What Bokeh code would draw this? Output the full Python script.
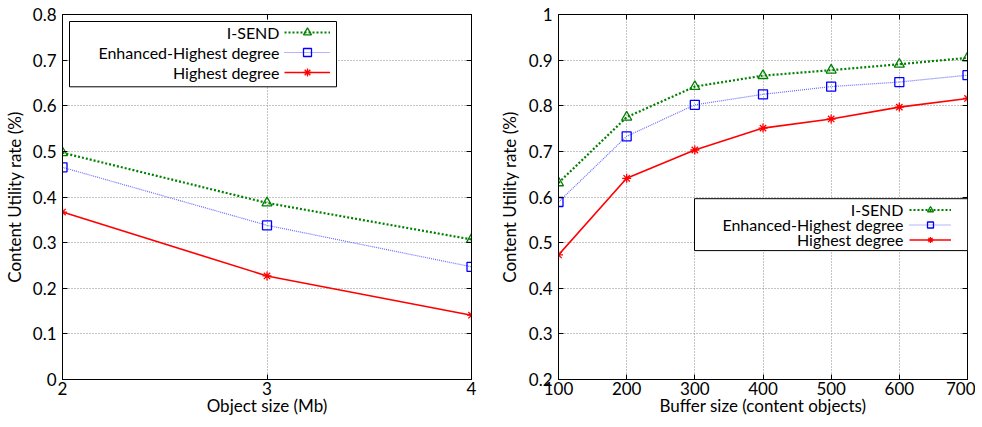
from bokeh.plotting import figure
from bokeh.layouts import row
from bokeh.models import (Range1d, FixedTicker, LinearAxis, Legend, LegendItem,
                          Label, BoxAnnotation)
from bokeh.embed import file_html
from bokeh.resources import INLINE

# ---------------- data ----------------
series_names = ["I-SEND", "Enhanced-Highest degree", "Highest degree"]

object_size = [2, 3, 4]
left_isend = [0.497, 0.387, 0.307]
left_enhanced = [0.465, 0.338, 0.247]
left_highest = [0.367, 0.227, 0.141]

buffer_size = [100, 200, 300, 400, 500, 600, 700]
right_isend = [0.631, 0.775, 0.842, 0.866, 0.878, 0.891, 0.905]
right_enhanced = [0.589, 0.733, 0.802, 0.825, 0.842, 0.852, 0.867]
right_highest = [0.473, 0.641, 0.703, 0.751, 0.771, 0.797, 0.816]

left_x_ticks = [2, 3, 4]
left_y_ticks = [0, 0.1, 0.2, 0.3, 0.4, 0.5, 0.6, 0.7, 0.8]
left_y_labels = ["0", "0.1", "0.2", "0.3", "0.4", "0.5", "0.6", "0.7", "0.8"]
right_x_ticks = [100, 200, 300, 400, 500, 600, 700]
right_y_ticks = [0.2, 0.3, 0.4, 0.5, 0.6, 0.7, 0.8, 0.9, 1.0]
right_y_labels = ["0.2", "0.3", "0.4", "0.5", "0.6", "0.7", "0.8", "0.9", "1"]

left_x_label = "Object size (Mb)"
right_x_label = "Buffer size (content objects)"
y_label = "Content Utility rate (%)"

# ---------------- style ----------------
FONT = "Lato"
FS = "17px"
LEG_FS = "16px"
FRAME_W = 409
FRAME_H = 365

GREEN = "#008000"
BLUE = "#0000ff"
BLUE_LINE = "#6b6bff"
RED = "#ff0000"


def make_fig(xr, yr, xticks, yticks, ylabels, xlabel, b_left, b_right, ylab_standoff):
    p = figure(frame_width=FRAME_W, frame_height=FRAME_H,
               min_border_left=b_left, min_border_right=b_right,
               min_border_top=14, min_border_bottom=40,
               x_range=Range1d(*xr), y_range=Range1d(*yr),
               output_backend="svg", toolbar_location=None,
               background_fill_color="white", border_fill_color="white")
    p.outline_line_color = "black"
    p.outline_line_width = 1

    for ax in (p.xaxis[0], p.yaxis[0]):
        ax.axis_line_color = "black"
        ax.major_tick_in = 5
        ax.major_tick_out = 0
        ax.minor_tick_in = 0
        ax.minor_tick_out = 0
        ax.major_label_text_font = FONT
        ax.major_label_text_font_size = FS
        ax.major_label_text_color = "black"
        ax.axis_label_text_font = FONT
        ax.axis_label_text_font_size = FS
        ax.axis_label_text_font_style = "normal"
        ax.axis_label_text_color = "black"

    p.xaxis[0].ticker = FixedTicker(ticks=xticks)
    p.yaxis[0].ticker = FixedTicker(ticks=yticks)
    p.yaxis[0].major_label_overrides = {t: l for t, l in zip(yticks, ylabels)}
    p.xaxis[0].axis_label = xlabel
    p.yaxis[0].axis_label = y_label
    p.xaxis[0].major_label_standoff = 2
    p.xaxis[0].axis_label_standoff = -3
    p.yaxis[0].major_label_standoff = 6
    p.yaxis[0].axis_label_standoff = ylab_standoff

    p.xgrid.ticker = FixedTicker(ticks=xticks)
    p.ygrid.ticker = FixedTicker(ticks=yticks)
    for g in (p.xgrid, p.ygrid):
        g.grid_line_color = "#8a8a8a"
        g.grid_line_dash = "1 2"
        g.grid_line_width = 1

    # mirrored tick marks on top and right (box style), no labels drawn
    for ticks, side in ((xticks, "above"), (yticks, "right")):
        ax = LinearAxis(ticker=FixedTicker(ticks=ticks),
                        major_label_text_font_size="1px", major_label_text_color=None,
                        major_label_standoff=0, major_tick_in=5, major_tick_out=0,
                        minor_tick_in=0, minor_tick_out=0, axis_line_color="black")
        p.add_layout(ax, side)
    return p


def add_series(p, x, ys):
    r_isend = [p.line(x, ys[0], line_color=GREEN, line_width=2.2, line_dash="2 2"),
               p.scatter(x, ys[0], marker="triangle", size=10, fill_alpha=0,
                         line_color=GREEN, line_width=1.3)]
    r_enh = [p.line(x, ys[1], line_color=BLUE_LINE, line_width=1.2, line_dash="1 1"),
             p.scatter(x, ys[1], marker="square", size=9, fill_alpha=0,
                       line_color=BLUE, line_width=1.3)]
    r_high = [p.line(x, ys[2], line_color=RED, line_width=1.6),
              p.scatter(x, ys[2], marker="asterisk", size=9,
                        line_color=RED, line_width=1.3)]
    return [r_isend, r_enh, r_high]


def add_legend(p, renderers, box, text_x, rows_y, glyph_x, glyph_w, row_h):
    l, r, t, b = box
    p.add_layout(BoxAnnotation(left=l, right=r, top=t, bottom=b,
                               left_units="screen", right_units="screen",
                               top_units="screen", bottom_units="screen",
                               fill_color="white", fill_alpha=1,
                               line_color="black", line_width=1, line_alpha=1))
    for name, yy in zip(series_names, rows_y):
        p.add_layout(Label(x=text_x, y=yy, x_units="screen", y_units="screen",
                           text=name, text_align="right", text_baseline="middle",
                           text_font=FONT, text_font_size=LEG_FS, text_color="black"))
    items = [LegendItem(label=" ", renderers=rr) for rr in renderers]
    leg = Legend(items=items, location=(glyph_x, rows_y[-1] - row_h / 2),
                 orientation="vertical", glyph_width=glyph_w, glyph_height=row_h,
                 label_height=row_h, label_width=0, label_standoff=0,
                 padding=0, spacing=0, margin=0,
                 border_line_alpha=0, background_fill_alpha=0,
                 label_text_font_size="1px", label_text_color=None)
    p.add_layout(leg, "center")


# ---------------- left chart ----------------
p1 = make_fig((2, 4), (0, 0.8), left_x_ticks, left_y_ticks, left_y_labels,
              left_x_label, 56, 24, 5)
r1 = add_series(p1, object_size, [left_isend, left_enhanced, left_highest])
add_legend(p1, r1, box=(7, 274, 358, 292.7), text_x=217,
           rows_y=[347, 327, 307], glyph_x=222, glyph_w=46, row_h=20)

# ---------------- right chart ----------------
p2 = make_fig((100, 700), (0.2, 1.0), right_x_ticks, right_y_ticks, right_y_labels,
              right_x_label, 60, 8, 6)
r2 = add_series(p2, buffer_size, [right_isend, right_enhanced, right_highest])
add_legend(p2, r2, box=(136, 409, 180.8, 128.9), text_x=345,
           rows_y=[170, 155, 140], glyph_x=351, glyph_w=42, row_h=15)

layout = row(p1, p2, spacing=0)
open("out.html", "w").write(file_html(layout, INLINE))
